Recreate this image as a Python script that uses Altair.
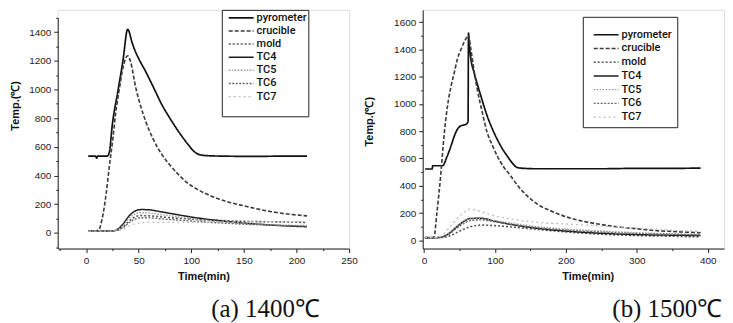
import altair as alt
import pandas as pd

# ---------------- series definitions ----------------
series_order = ["pyrometer", "crucible", "mold", "TC4", "TC5", "TC6", "TC7"]
series_colors = ["#111111", "#3c3c3c", "#555555", "#1e1e1e", "#9c9c9c", "#6a6a6a", "#bdbdbd"]
series_dashes = [[1, 0], [4, 2], [2, 2], [1, 0], [1.5, 1.5], [2, 1.5], [2, 3]]
series_widths = [1.7, 1.3, 1.2, 1.3, 1.2, 1.2, 1.2]
captions = ["(a) 1400℃", "(b) 1500℃"]

# ---------------- panel (a): 1400 C ----------------
pyro_a_t = [2, 9, 10, 11, 20, 22, 25, 30, 35, 39.5, 44, 47, 50, 56.6, 64, 72, 80, 87.7, 96, 103, 108, 115, 130, 160, 190, 210]
pyro_a_T = [535, 535, 520, 535, 535, 560, 760, 980, 1200, 1420, 1320, 1262, 1215, 1125, 1015, 894, 795, 708, 625, 565, 545, 538, 535, 533, 535, 535]

cruc_a_t = [2, 9, 12, 15, 19, 22, 25.5, 28, 31.7, 35, 39.5, 42, 47.3, 52, 56.6, 64, 72, 80, 87.7, 95, 103, 118.8, 135, 150, 165, 181, 195, 210]
cruc_a_T = [14, 14, 20, 90, 270, 460, 662, 830, 1009, 1150, 1235, 1200, 1009, 880, 778, 650, 546, 470, 407, 355, 315, 257, 215, 188, 163, 141, 128, 118]

tc_a_t = [3, 24, 30, 35, 40, 45, 52, 60, 70, 80, 100, 120, 150, 180, 210]
mold_a_T = [12, 12, 20, 40, 75, 105, 120, 118, 112, 105, 95, 88, 80, 76, 72]
tc4_a_T = [12, 12, 25, 60, 110, 145, 162, 160, 148, 135, 110, 90, 68, 52, 42]
tc5_a_T = [12, 12, 22, 50, 95, 125, 140, 138, 128, 118, 98, 82, 65, 55, 50]
tc6_a_T = [12, 12, 18, 35, 65, 90, 105, 104, 98, 92, 82, 72, 60, 52, 45]
tc7_a_T = [12, 12, 15, 25, 45, 60, 70, 72, 72, 72, 73, 74, 75, 76, 76]

# ---------------- panel (b): 1500 C ----------------
pyro_b_t = [1.4, 11.5, 12, 26, 32, 38, 43, 47, 52, 59, 62, 62.6, 63.5, 66, 70.6, 80, 89, 96, 103, 110, 117, 124, 131, 140, 160, 200, 250, 300, 350, 390]
pyro_b_T = [523, 523, 547, 547, 610, 693, 770, 815, 840, 851, 870, 1520, 1450, 1330, 1229, 1060, 912, 820, 742, 675, 620, 570, 535, 528, 525, 525, 525, 528, 528, 530]

cruc_b_t = [1.4, 10, 14, 18, 23.8, 28, 33, 38, 42.5, 47, 52, 57, 61, 62.5, 66, 70, 75, 82, 89, 96, 103, 112, 122, 133, 145, 160, 183, 205, 230, 255, 276, 300, 323, 350, 390]
cruc_b_T = [20, 20, 25, 200, 499, 760, 985, 1130, 1228, 1330, 1399, 1460, 1496, 1505, 1400, 1260, 1107, 940, 790, 700, 620, 540, 474, 395, 328, 265, 207, 165, 134, 112, 97, 85, 73, 65, 56]

tc_b_t = [1, 18, 25, 35, 45, 55, 65, 80, 100, 130, 160, 200, 250, 300, 350, 390]
mold_b_T = [20, 20, 22, 30, 55, 80, 100, 112, 108, 95, 80, 62, 45, 35, 30, 25]
tc4_b_T = [20, 20, 25, 50, 95, 135, 160, 162, 140, 110, 88, 68, 52, 42, 38, 35]
tc5_b_T = [20, 20, 25, 55, 100, 140, 160, 158, 145, 120, 100, 82, 68, 56, 48, 42]
tc6_b_T = [20, 20, 24, 45, 85, 120, 145, 150, 135, 112, 92, 75, 60, 50, 44, 40]
tc7_b_T = [20, 20, 35, 90, 150, 200, 230, 210, 180, 150, 132, 120, 105, 90, 75, 65]


def build(parts):
    rows = []
    for name, ts, vs in parts:
        for t, v in zip(ts, vs):
            rows.append({"series": name, "t": t, "T": v})
    return pd.DataFrame(rows)


df_a = build([
    ("pyrometer", pyro_a_t, pyro_a_T), ("crucible", cruc_a_t, cruc_a_T),
    ("mold", tc_a_t, mold_a_T), ("TC4", tc_a_t, tc4_a_T), ("TC5", tc_a_t, tc5_a_T),
    ("TC6", tc_a_t, tc6_a_T), ("TC7", tc_a_t, tc7_a_T),
])
df_b = build([
    ("pyrometer", pyro_b_t, pyro_b_T), ("crucible", cruc_b_t, cruc_b_T),
    ("mold", tc_b_t, mold_b_T), ("TC4", tc_b_t, tc4_b_T), ("TC5", tc_b_t, tc5_b_T),
    ("TC6", tc_b_t, tc6_b_T), ("TC7", tc_b_t, tc7_b_T),
])

FONT = "Liberation Sans"
LFONT = "Roboto"
SYMBOL_PATH = "M-0.17,0H4"


def make_legend(lx, ly, pad, loff, rowpad, fsize, torient, tsize, tpad):
    return alt.Legend(
        title=" ", titleOrient=torient, titleFontSize=tsize, titlePadding=tpad,
        orient="none", legendX=lx, legendY=ly,
        symbolType=SYMBOL_PATH, symbolSize=144, symbolStrokeWidth=1.3,
        labelFont=LFONT, labelFontSize=fsize, labelFontWeight=500, labelColor="#111",
        strokeColor="#222", fillColor="white", padding=pad, rowPadding=rowpad,
        labelOffset=loff,
    )


def axis_x(values, major, title, title_x=None):
    kw = {}
    if title_x is not None:
        kw["titleX"] = title_x
    return alt.Axis(
        values=values, format="d",
        labelExpr=f"datum.value % {major} === 0 && datum.value >= 0 ? datum.label : ''",
        tickSize={"condition": {"test": f"datum.value % {major} === 0", "value": 4}, "value": 2},
        grid=False, domainColor="#222", tickColor="#222", labelFlush=False,
        labelFont=FONT, labelFontSize=10, labelColor="#222", labelPadding=3,
        title=title, titleFont=FONT, titleFontSize=11, titleFontWeight="bold",
        titleColor="#111", titlePadding=5, **kw,
    )


def axis_y(values, major, title, title_x, title_y):
    return alt.Axis(
        values=values, format="d",
        labelExpr=f"datum.value % {major} === 0 && datum.value >= 0 ? datum.label : ''",
        tickSize={"condition": {"test": f"datum.value % {major} === 0", "value": 4}, "value": 2},
        grid=False, domainColor="#222", tickColor="#222", labelFlush=False,
        labelFont=FONT, labelFontSize=10, labelColor="#222", labelPadding=3,
        title=title, titleFont=FONT, titleFontSize=11, titleFontWeight="bold",
        titleColor="#111", titleX=title_x, titleY=title_y, titleBaseline="middle",
        titleAngle=270,
    )


def panel(df, xdom, ydom, yrange, xaxis, yaxis, legend, w, h, caption, cap_x, cap_y):
    color = alt.Color("series:N", scale=alt.Scale(domain=series_order, range=series_colors),
                      sort=series_order, legend=legend)
    dash = alt.StrokeDash("series:N", scale=alt.Scale(domain=series_order, range=series_dashes),
                          sort=series_order, legend=legend)
    width = alt.StrokeWidth("series:N", scale=alt.Scale(domain=series_order, range=series_widths),
                            legend=None)
    lines = alt.Chart(df).mark_line(interpolate="monotone").encode(
        x=alt.X("t:Q", scale=alt.Scale(domain=xdom, nice=False, zero=False), axis=xaxis),
        y=alt.Y("T:Q", scale=alt.Scale(domain=ydom, range=yrange, nice=False, zero=False), axis=yaxis),
        color=color, strokeDash=dash, strokeWidth=width,
    )
    cap = alt.Chart(pd.DataFrame({"c": [caption]})).mark_text(
        font="Liberation Serif", fontSize=25, color="#111", align="center", baseline="alphabetic"
    ).encode(text="c:N", x=alt.value(cap_x), y=alt.value(cap_y))
    return alt.layer(lines, cap).properties(width=w, height=h)


chart_a = panel(
    df_a, [-27, 250], [-110, 1500], [240, 8],
    axis_x(list(range(-25, 251, 25)), 50, "Time(min)"),
    axis_y(list(range(-100, 1501, 100)), 200, "Temp.(℃)", -42, 96),
    make_legend(165, 0, 1, 20, 1.2, 11, "bottom", 12, 3),
    293, 240, captions[0], 209, 309,
)
chart_b = panel(
    df_b, [-2, 423], [-60, 1690], [240, 0],
    axis_x(list(range(0, 421, 50)), 100, "Time(min)", 166),
    axis_y(list(range(0, 1601, 100)), 200, "Temp.(℃)", -53, 112),
    make_legend(161, 7, 5, 20, 1.8, 11, "top", 5, 1),
    303, 240, captions[1], 246, 309,
)

chart = alt.hconcat(chart_a, chart_b, spacing=5).resolve_scale(
    color="independent", strokeDash="independent", strokeWidth="independent"
).resolve_legend(color="independent", strokeDash="independent").properties(
    padding={"left": 1, "top": 0, "right": 0, "bottom": 0}
).configure_view(stroke=None).configure(background="white")

chart.save("out.html", embed_options={"renderer": "svg", "actions": False})
